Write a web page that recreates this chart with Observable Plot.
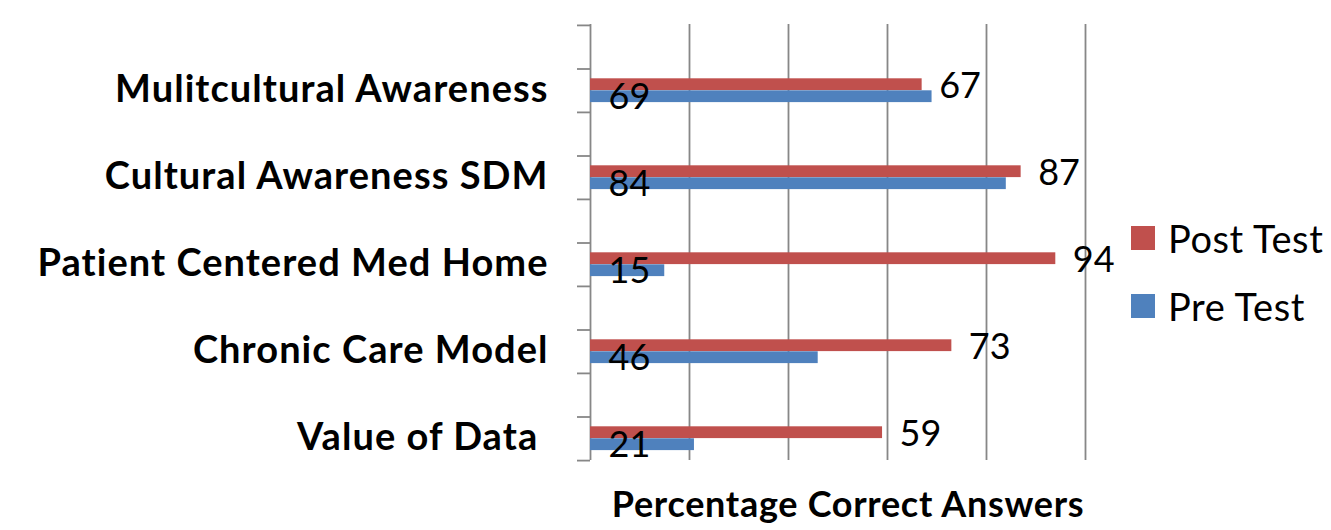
<!DOCTYPE html>
<html>
<head>
<meta charset="utf-8">
<script src="https://cdn.jsdelivr.net/npm/d3@7"></script>
<script src="https://cdn.jsdelivr.net/npm/@observablehq/plot@0.6"></script>
<style>
  html, body { margin: 0; padding: 0; background: #fff; }
  #wrap { position: relative; width: 1331px; height: 530px; }
  .legend { position: absolute; left: 1131px; top: 0; font-family: Lato, sans-serif; font-size: 38px; letter-spacing: 0.6px; color: #000; }
  .item { position: absolute; left: 0; display: flex; align-items: center; white-space: nowrap; }
  .sw { width: 24px; height: 24px; margin-right: 13px; }
</style>
</head>
<body>
<div id="wrap"></div>
<script>
const categories = ["Mulitcultural Awareness", "Cultural Awareness SDM", "Patient Centered Med Home", "Chronic Care Model", "Value of Data "];
const postTest = [67, 87, 94, 73, 59];
const preTest = [69, 84, 15, 46, 21];
const seriesNames = ["Post Test", "Pre Test"];
const seriesColors = ["#C0504D", "#4F81BD"];
const gridValues = [20, 40, 60, 80, 100];
const axisTitle = "Percentage Correct Answers";

const W = 1331, H = 530;
const mL = 590, mR = 246, mT = 24, mB = 70;
const half = (H - mT - mB) / categories.length / 2;
const pxPerUnit = (W - mL - mR) / 100;

const post = categories.map((c, i) => ({category: c, value: postTest[i]}));
const pre = categories.map((c, i) => ({category: c, value: preTest[i]}));
const gray = "#878787";

const chart = Plot.plot({
  width: W,
  height: H,
  marginLeft: mL,
  marginRight: mR,
  marginTop: mT,
  marginBottom: mB,
  style: {fontFamily: "Lato, sans-serif", fontSize: "36px", color: "#000", background: "#fff"},
  x: {domain: [0, 100], axis: null},
  y: {domain: categories, axis: null, padding: 0},
  marks: [
    Plot.ruleX(gridValues, {stroke: gray, strokeWidth: 1.8}),
    Plot.ruleX([0], {stroke: gray, strokeWidth: 1.8}),
    Plot.ruleY(categories, {y: d => d, x1: -13 / pxPerUnit, x2: 0, stroke: gray, strokeWidth: 1.8}),
    Plot.ruleY(categories, {y: d => d, dy: -half, x1: -13 / pxPerUnit, x2: 0, stroke: gray, strokeWidth: 1.8}),
    Plot.ruleY(categories.slice(-1), {y: d => d, dy: half, x1: -13 / pxPerUnit, x2: 0, stroke: gray, strokeWidth: 1.8}),
    Plot.barX(post, {x: "value", y: "category", fill: seriesColors[0], insetTop: half + 9.7, insetBottom: half - 21.7}),
    Plot.barX(pre, {x: "value", y: "category", fill: seriesColors[1], insetTop: half + 21.7, insetBottom: half - 33.7}),
    Plot.text(post, {x: "value", y: "category", text: d => String(d.value), textAnchor: "start", dx: 17, dy: 17, fill: "#000"}),
    Plot.text(pre, {x: 0, y: "category", text: d => String(d.value), textAnchor: "start", dx: 18, dy: 28, fill: "#000"}),
    Plot.text(categories, {y: d => d, frameAnchor: "left", text: d => d, textAnchor: "end", dx: -42, dy: 21, fontWeight: "bold", fontSize: 38, fill: "#000"}),
    Plot.text([axisTitle], {frameAnchor: "bottom", text: d => d, dx: 10, dy: 56, fontWeight: "bold", fontSize: 36, fill: "#000"})
  ]
});

d3.select(chart).selectAll("text")
  .filter(function() { return categories.includes(this.textContent); })
  .style("letter-spacing", "1.05px");
d3.select(chart).selectAll("text")
  .filter(function() { return this.textContent === axisTitle; })
  .style("letter-spacing", "0.7px");

const wrap = document.getElementById("wrap");
wrap.appendChild(chart);

const legend = document.createElement("div");
legend.className = "legend";
const tops = [238, 306];
seriesNames.forEach((name, i) => {
  const item = document.createElement("div");
  item.className = "item";
  item.style.top = (tops[i] - 25) + "px";
  item.style.height = "50px";
  const sw = document.createElement("div");
  sw.className = "sw";
  sw.style.background = seriesColors[i];
  const t = document.createElement("span");
  t.textContent = name;
  item.appendChild(sw);
  item.appendChild(t);
  legend.appendChild(item);
});
wrap.appendChild(legend);
</script>
</body>
</html>
